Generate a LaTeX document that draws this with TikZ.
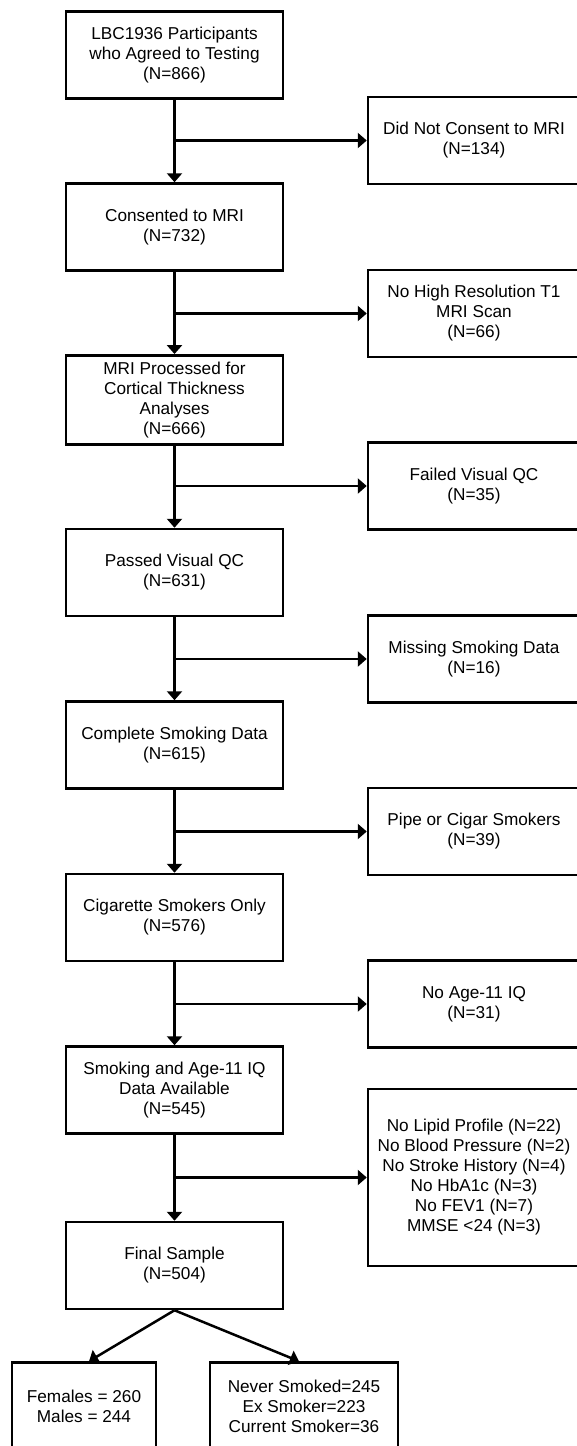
\documentclass[tikz,border=0pt]{standalone}
\usepackage{fontspec}
\setmainfont{Liberation Sans}
\usetikzlibrary{
  arrows.meta,
}

\begin{document}
\begin{tikzpicture}[
  x=0.5pt, y=-0.5pt,
  every node/.style={font=\fontsize{8.6}{10}\selectfont, align=center},
  stagebox/.style={draw, line width=1.25pt, minimum width=108.5pt, minimum height=43.5pt},
  dropbox/.style={draw, line width=1.25pt, minimum width=106pt, minimum height=43.5pt},
  splitbox/.style={draw, line width=1.25pt, minimum height=43.5pt},
  flow/.style={line width=1.25pt, -{Triangle[width=7.5pt,length=4.5pt]}},
]
\useasboundingbox (0,0) rectangle (577,1446);
\clip (0,0) rectangle (577,1446);

% main column
\node[stagebox] (b1) at (174.5,55) {LBC1936 Participants\\who Agreed to Testing\\(N=866)};
\node[stagebox] (b2) at (174.5,227) {Consented to MRI\\(N=732)};
\node[stagebox] (b3) at (174.5,400) {MRI Processed for\\Cortical Thickness\\Analyses\\(N=666)};
\node[stagebox] (b4) at (174.5,572.5) {Passed Visual QC\\(N=631)};
\node[stagebox] (b5) at (174.5,745) {Complete Smoking Data\\(N=615)};
\node[stagebox] (b6) at (174.5,917.5) {Cigarette Smokers Only\\(N=576)};
\node[stagebox] (b7) at (174.5,1090) {Smoking and Age-11 IQ\\Data Available\\(N=545)};
\node[stagebox] (b8) at (174.5,1265.5) {Final Sample\\(N=504)};

% exclusions
\node[dropbox] (r1) at (474,140.5) {Did Not Consent to MRI\\(N=134)};
\node[dropbox] (r2) at (474,313.5) {No High Resolution T1\\MRI Scan\\(N=66)};
\node[dropbox] (r3) at (474,486) {Failed Visual QC\\(N=35)};
\node[dropbox] (r4) at (474,659) {Missing Smoking Data\\(N=16)};
\node[dropbox] (r5) at (474,831.5) {Pipe or Cigar Smokers\\(N=39)};
\node[dropbox] (r6) at (474,1004) {No Age-11 IQ\\(N=31)};
\node[dropbox, minimum height=88.5pt] (r7) at (474,1177.5) {No Lipid Profile (N=22)\\No Blood Pressure (N=2)\\No Stroke History (N=4)\\No HbA1c (N=3)\\No FEV1 (N=7)\\MMSE <24 (N=3)};

% split of final sample
\node[splitbox, minimum width=72pt] (fem) at (84,1406) {Females = 260\\Males = 244};
\node[splitbox, minimum width=94pt] (nev) at (304,1406) {Never Smoked=245\\Ex Smoker=223\\Current Smoker=36};

\foreach \a/\b in {1/2,2/3,3/4,4/5,5/6,6/7,7/8} {
  \draw[flow] (b\a) -- (b\b);
  \draw[flow] (b\a.south |- r\a.west) -- (r\a.west);
}
\draw[flow] (b8.south) -- ([xshift=2.5pt]fem.north);
\draw[flow] (b8.south) -- ([xshift=-2.5pt]nev.north);
\end{tikzpicture}
\end{document}
